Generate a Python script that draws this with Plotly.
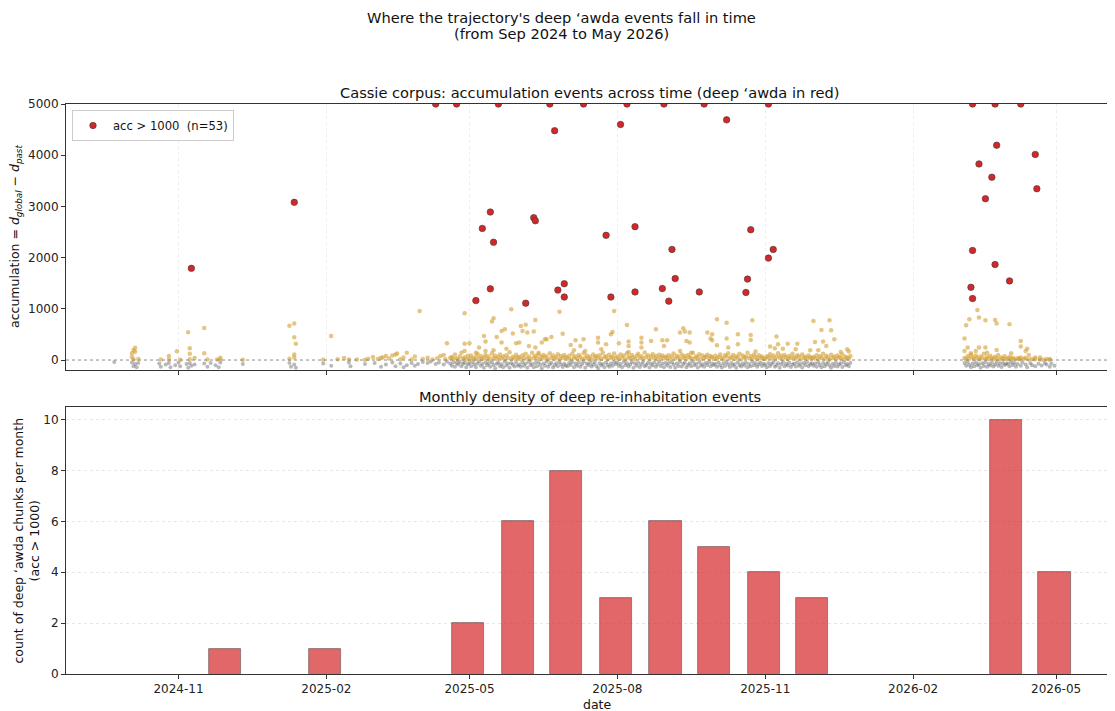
import plotly.graph_objects as go

# ---------------- data ----------------
# deep 'awda events (acc > 1000); values above 5000 are shown at the 5000 ceiling
deep_points = [
    ("2024-11-09", 1790), ("2025-01-12", 3080), ("2025-04-10", 5000), ("2025-04-23", 5000),
    ("2025-05-05", 1160), ("2025-05-09", 2570), ("2025-05-14", 2890), ("2025-05-14", 1390),
    ("2025-05-16", 2300), ("2025-05-19", 5000),
    ("2025-06-05", 1110), ("2025-06-10", 2780), ("2025-06-11", 2720), ("2025-06-20", 5000),
    ("2025-06-23", 4480), ("2025-06-25", 1365), ("2025-06-29", 1490), ("2025-06-29", 1230),
    ("2025-07-11", 5000), ("2025-07-25", 2435), ("2025-07-28", 1230),
    ("2025-08-03", 4600), ("2025-08-07", 5000), ("2025-08-12", 2605), ("2025-08-12", 1330),
    ("2025-08-29", 1395), ("2025-08-30", 5000),
    ("2025-09-02", 1150), ("2025-09-04", 2160), ("2025-09-06", 1590), ("2025-09-21", 1330),
    ("2025-09-24", 5000),
    ("2025-10-08", 4690), ("2025-10-20", 1320), ("2025-10-21", 1580), ("2025-10-23", 2545),
    ("2025-11-03", 1990), ("2025-11-03", 5000), ("2025-11-06", 2160),
    ("2026-03-09", 1420), ("2026-03-10", 5000), ("2026-03-10", 1200), ("2026-03-10", 2140),
    ("2026-03-14", 3830), ("2026-03-18", 3150), ("2026-03-22", 3570), ("2026-03-24", 1865),
    ("2026-03-24", 5000), ("2026-03-25", 4195),
    ("2026-04-02", 1545), ("2026-04-09", 5000), ("2026-04-18", 4015), ("2026-04-19", 3345),
]

# other accumulation events with 0 < acc <= 1000 (scattered ones)
gold_points_sparse = [
    ("2024-10-03", 130), ("2024-10-04", 195), ("2024-10-05", 240), ("2024-10-05", 160),
    ("2024-10-03", 60), ("2024-10-04", 15), ("2024-10-07", 20), ("2024-10-21", 10),
    ("2024-10-26", 80), ("2024-10-26", 5), ("2024-10-31", 170), ("2024-11-02", 5),
    ("2024-11-07", 540), ("2024-11-08", 230), ("2024-11-08", 120), ("2024-11-08", 15),
    ("2024-11-11", 40), ("2024-11-17", 625), ("2024-11-17", 130), ("2024-11-19", 10),
    ("2024-11-25", 10), ("2024-11-27", 45), ("2024-11-27", 5), ("2024-12-11", 5),
    ("2025-01-09", 670), ("2025-01-12", 715), ("2025-01-12", 445), ("2025-01-13", 320),
    ("2025-01-12", 110), ("2025-01-12", 50), ("2025-01-09", 25),
    ("2025-01-30", 5), ("2025-02-04", 470), ("2025-02-08", 15), ("2025-02-12", 40),
    ("2025-02-15", 10), ("2025-02-20", 10), ("2025-02-25", 5), ("2025-02-27", 25),
    ("2025-03-02", 60), ("2025-03-05", 20), ("2025-03-07", 45), ("2025-03-08", 47),
    ("2025-03-10", 80), ("2025-03-12", 30), ("2025-03-14", 90), ("2025-03-16", 110),
    ("2025-03-17", 125), ("2025-03-19", 15), ("2025-03-21", 50), ("2025-03-23", 144),
    ("2025-03-26", 10), ("2025-03-28", 70), ("2025-03-31", 957),
    ("2025-04-15", 98), ("2025-04-17", 326), ("2025-04-28", 912), ("2025-04-28", 320),
    ("2025-04-28", 176), ("2025-05-01", 326), ("2025-05-05", 144), ("2025-05-07", 242),
    ("2025-05-10", 470), ("2025-05-11", 360), ("2025-05-11", 176), ("2025-05-15", 750),
    ("2025-05-16", 815), ("2025-05-16", 190), ("2025-05-18", 450), ("2025-05-21", 566),
    ("2025-05-21", 340), ("2025-05-23", 600), ("2025-05-24", 222), ("2025-05-27", 990),
    ("2025-05-28", 520), ("2025-05-30", 326), ("2025-06-01", 340), ("2025-06-02", 664),
    ("2025-06-03", 566), ("2025-06-05", 690), ("2025-06-06", 535), ("2025-06-07", 273),
    ("2025-06-10", 555), ("2025-06-11", 780), ("2025-06-11", 242), ("2025-06-13", 144),
    ("2025-06-15", 340), ("2025-06-17", 404), ("2025-06-18", 404), ("2025-06-21", 450),
    ("2025-06-26", 945), ("2025-06-28", 515), ("2025-07-03", 293), ("2025-07-05", 190),
    ("2025-07-06", 385), ("2025-07-09", 273), ("2025-07-11", 404), ("2025-07-12", 176),
    ("2025-07-20", 437), ("2025-07-20", 340), ("2025-07-22", 209), ("2025-07-25", 307),
    ("2025-07-28", 502), ("2025-07-29", 547), ("2025-07-30", 957), ("2025-08-02", 326),
    ("2025-08-07", 684), ("2025-08-08", 360), ("2025-08-08", 273), ("2025-08-08", 157),
    ("2025-08-16", 437), ("2025-08-16", 340), ("2025-08-16", 242), ("2025-08-22", 371),
    ("2025-08-25", 600), ("2025-08-29", 385), ("2025-08-30", 273), ("2025-09-01", 385),
    ("2025-09-09", 535), ("2025-09-09", 176), ("2025-09-11", 620), ("2025-09-12", 555),
    ("2025-09-13", 371), ("2025-09-15", 535), ("2025-09-15", 340), ("2025-09-16", 144),
    ("2025-09-26", 535), ("2025-09-28", 418), ("2025-09-29", 502), ("2025-09-29", 385),
    ("2025-10-02", 795), ("2025-10-02", 287), ("2025-10-08", 730), ("2025-10-08", 418),
    ("2025-10-09", 242), ("2025-10-15", 502), ("2025-10-15", 307), ("2025-10-23", 488),
    ("2025-10-23", 390), ("2025-10-24", 775), ("2025-10-26", 164), ("2025-11-04", 262),
    ("2025-11-07", 228), ("2025-11-08", 457), ("2025-11-09", 307), ("2025-11-12", 222),
    ("2025-11-15", 320), ("2025-11-20", 209), ("2025-11-21", 320), ("2025-11-29", 190),
    ("2025-12-01", 762), ("2025-12-02", 352), ("2025-12-04", 190), ("2025-12-06", 586),
    ("2025-12-07", 360), ("2025-12-09", 273), ("2025-12-11", 775), ("2025-12-12", 580),
    ("2025-12-14", 404), ("2025-12-18", 157), ("2025-12-22", 209), ("2025-12-23", 164),
    ("2026-03-05", 418), ("2026-03-05", 176), ("2026-03-06", 678), ("2026-03-07", 242),
    ("2026-03-08", 795), ("2026-03-09", 131), ("2026-03-12", 176), ("2026-03-13", 977),
    ("2026-03-14", 828), ("2026-03-14", 242), ("2026-03-18", 775), ("2026-03-18", 242),
    ("2026-03-19", 144), ("2026-03-24", 781), ("2026-03-25", 711), ("2026-03-25", 195),
    ("2026-04-02", 697), ("2026-04-03", 131), ("2026-04-08", 27), ("2026-04-09", 371),
    ("2026-04-09", 262), ("2026-04-12", 176), ("2026-04-13", 222), ("2026-04-14", 98),
    ("2026-04-18", 47), ("2026-04-21", 47), ("2026-04-27", 14),
]

# dense near-zero band, one value per day of month (None = no event that day)
gold_2025_04 = [None, 20, None, None, 45, None, None, 10, None, None, 35, None, 80, None, None,
                15, None, None, 40, 60, 25, 110, 30, 5, 70, 140, 20, 55, 10, 85]
gold_2025_05 = [20, 90, 40, 10, 60, 120, 30, 80, 15, 50, 100, 25, 70, 5, 130, 45, 85, 20, 60, 110,
                35, 75, 10, 95, 40, 150, 20, 65, 30, 105, 50]
gold_2025_06 = [60, 15, 95, 40, 120, 25, 70, 10, 140, 50, 85, 30, 110, 20, 65, 100, 35, 75, 5, 130,
                45, 90, 25, 60, 115, 15, 80, 40, 100, 55]
gold_2025_07 = [30, 85, 10, 120, 45, 70, 20, 100, 60, 15, 135, 40, 90, 25, 65, 5, 110, 50, 80, 30,
                95, 20, 140, 55, 75, 10, 105, 45, 60, 125, 35]
gold_2025_08 = [70, 20, 110, 45, 90, 10, 130, 60, 30, 100, 50, 15, 85, 120, 40, 75, 25, 145, 55, 95,
                5, 65, 115, 35, 80, 20, 105, 50, 90, 30, 70]
gold_2025_09 = [40, 95, 15, 70, 125, 30, 85, 55, 10, 110, 45, 80, 20, 100, 60, 35, 140, 25, 75, 50,
                115, 15, 90, 40, 65, 105, 30, 80, 55, 20]
gold_2025_10 = [85, 25, 60, 110, 40, 15, 95, 70, 130, 30, 55, 100, 20, 75, 45, 120, 10, 90, 50, 65,
                140, 35, 80, 25, 105, 60, 15, 95, 40, 70, 30]
gold_2025_11 = [20, 75, 50, 115, 35, 90, 10, 65, 130, 45, 85, 25, 100, 60, 15, 80, 40, 120, 55, 30,
                95, 70, 10, 110, 45, 65, 25, 90, 50, 35]
gold_2025_12 = [60, 30, 95, 15, 75, 45, 120, 25, 85, 50, 10, 105, 40, 70, 20, 90, 55, 35, 110, 15,
                65, 45, 25, 80]
gold_2026_03 = [None, None, None, None, 40, 15, 80, 30, 110, 55, 20, 90, 45, 10, 70, 35, 120, 25,
                60, 15, 85, 40, 20, 65, 30, 100, 10, 50, 25, 75, 15]
gold_2026_04 = [30, 60, 10, 45, 20, None, 35, 15, 50, None, 25, 40, None, 10, None, 20, None, 15,
                None, None, 10, None, 5, None, 20, None, 10]

# events with acc <= 0 (grey)
gray_points_sparse = [
    ("2024-09-22", -40), ("2024-10-03", -50), ("2024-10-04", -120), ("2024-10-05", -80),
    ("2024-10-06", -140), ("2024-10-07", -60), ("2024-10-20", -70), ("2024-10-21", -130),
    ("2024-10-24", -90), ("2024-10-26", -60), ("2024-10-27", -140), ("2024-10-30", -100),
    ("2024-11-01", -50), ("2024-11-02", -120), ("2024-11-06", -80), ("2024-11-07", -150),
    ("2024-11-08", -60), ("2024-11-09", -110), ("2024-11-11", -90), ("2024-11-17", -70),
    ("2024-11-19", -130), ("2024-11-21", -60), ("2024-11-24", -100), ("2024-11-26", -140),
    ("2024-11-27", -50), ("2024-12-11", -80), ("2025-01-09", -60), ("2025-01-10", -130),
    ("2025-01-12", -90), ("2025-01-13", -150), ("2025-01-30", -70), ("2025-02-04", -110),
    ("2025-02-15", -50), ("2025-02-16", -120), ("2025-02-25", -80), ("2025-03-03", -60),
    ("2025-03-07", -130), ("2025-03-10", -90), ("2025-03-14", -50), ("2025-03-16", -120),
    ("2025-03-19", -70), ("2025-03-21", -140), ("2025-03-23", -100), ("2025-03-26", -60),
    ("2025-03-28", -110), ("2025-03-30", -80),
]
gray_2025_04 = [None, -40, None, None, -60, None, -30, None, None, -80, None, -50, None, None, -90,
                None, -35, None, -70, -110, -45, -130, -60, -90, -40, -120, -75, -55, -140, -85]
gray_2025_05 = [-60, -120, -40, -90, -140, -70, -30, -110, -80, -150, -50, -100, -65, -130, -45,
                -95, -160, -75, -55, -120, -85, -140, -35, -105, -70, -150, -60, -90, -125, -45, -110]
gray_2025_06 = [-90, -130, -50, -110, -70, -150, -40, -100, -80, -140, -60, -120, -45, -95, -160,
                -70, -110, -35, -130, -85, -55, -145, -100, -65, -120, -40, -90, -135, -75, -105]
gray_2025_07 = [-120, -60, -95, -40, -140, -75, -110, -50, -130, -85, -35, -150, -70, -100, -55,
                -125, -90, -45, -115, -160, -65, -105, -80, -140, -50, -95, -130, -70, -110, -40, -85]
gray_2025_08 = [-50, -115, -80, -140, -35, -100, -65, -125, -90, -45, -150, -70, -110, -55, -135,
                -85, -40, -120, -95, -60, -145, -75, -105, -50, -130, -90, -35, -115, -70, -140, -60]
gray_2025_09 = [-105, -60, -135, -45, -90, -150, -70, -115, -40, -125, -80, -55, -140, -95, -65,
                -120, -35, -100, -75, -145, -50, -110, -85, -130, -60, -95, -40, -120, -70, -100]
gray_2025_10 = [-75, -130, -50, -100, -145, -65, -115, -40, -90, -135, -60, -110, -85, -150, -45,
                -95, -125, -70, -105, -55, -140, -80, -120, -35, -100, -65, -130, -90, -50, -115, -75]
gray_2025_11 = [-95, -140, -60, -115, -80, -45, -130, -100, -65, -150, -85, -40, -120, -75, -105,
                -55, -135, -90, -70, -125, -50, -110, -80, -145, -60, -100, -40, -120, -85, -65]
gray_2025_12 = [-110, -70, -130, -50, -95, -140, -60, -120, -85, -45, -105, -150, -75, -115, -55,
                -125, -90, -65, -135, -40, -100, -80, -120, -60]
gray_2026_03 = [None, None, None, None, -60, -110, -40, -95, -140, -70, -120, -50, -100, -85, -150,
                -65, -115, -45, -130, -80, -105, -55, -125, -90, -40, -110, -70, -135, -60, -95, -80]
gray_2026_04 = [-70, -120, -45, -95, -60, -130, -80, None, -110, -50, None, -90, -140, None, -65,
                -100, None, -120, None, -75, None, -105, None, -60, -90, None, -130, -70, None, -110]

# monthly density of deep events (month-end bins)
bar_months = ["2024-11-30", "2025-01-31", "2025-04-30", "2025-05-31", "2025-06-30", "2025-07-31",
              "2025-08-31", "2025-09-30", "2025-10-31", "2025-11-30", "2026-03-31", "2026-04-30"]
bar_counts = [1, 1, 2, 6, 8, 3, 6, 5, 4, 3, 10, 4]

x_tick_dates = ["2024-11-01", "2025-02-01", "2025-05-01", "2025-08-01", "2025-11-01",
                "2026-02-01", "2026-05-01"]
x_tick_labels = ["2024-11", "2025-02", "2025-05", "2025-08", "2025-11", "2026-02", "2026-05"]
top_y_ticks = [0, 1000, 2000, 3000, 4000, 5000]
bottom_y_ticks = [0, 2, 4, 6, 8, 10]
x_range = ["2024-08-23", "2026-06-06"]


# ---------------- helpers ----------------
def unzip(points):
    return [p[0] for p in points], [p[1] for p in points]


def month_series(month, values):
    dates, vals = [], []
    for day, v in enumerate(values, start=1):
        if v is not None:
            dates.append(f"{month}-{day:02d}")
            vals.append(v)
    return dates, vals


def collect(sparse, monthly):
    d, v = unzip(sparse)
    for month, values in monthly:
        md, mv = month_series(month, values)
        d += md
        v += mv
    return d, v


gold_x, gold_y = collect(gold_points_sparse, [
    ("2025-04", gold_2025_04), ("2025-05", gold_2025_05), ("2025-06", gold_2025_06),
    ("2025-07", gold_2025_07), ("2025-08", gold_2025_08), ("2025-09", gold_2025_09),
    ("2025-10", gold_2025_10), ("2025-11", gold_2025_11), ("2025-12", gold_2025_12),
    ("2026-03", gold_2026_03), ("2026-04", gold_2026_04)])
gray_x, gray_y = collect(gray_points_sparse, [
    ("2025-04", gray_2025_04), ("2025-05", gray_2025_05), ("2025-06", gray_2025_06),
    ("2025-07", gray_2025_07), ("2025-08", gray_2025_08), ("2025-09", gray_2025_09),
    ("2025-10", gray_2025_10), ("2025-11", gray_2025_11), ("2025-12", gray_2025_12),
    ("2026-03", gray_2026_03), ("2026-04", gray_2026_04)])
deep_x, deep_y = unzip(deep_points)

FONT = "DejaVu Sans"
PAGE_OFF = 8                      # default body margin of the html page
W, H = 1115 - PAGE_OFF, 711 - PAGE_OFF
ML, MR, MT, MB = 66 - PAGE_OFF, 1, 104 - PAGE_OFF, 711 - 674
plot_h = H - MT - MB
plot_w = W - ML - MR


def yfrac(page_y):
    return (711 - MB - page_y) / plot_h


def xfrac(page_x):
    return (page_x - 66) / plot_w


top_dom = [yfrac(370), 1.0]
bot_dom = [0.0, yfrac(407)]

fig = go.Figure()

fig.add_trace(go.Scatter(
    x=gray_x, y=gray_y, mode="markers", xaxis="x", yaxis="y",
    marker=dict(size=4, color="rgba(100,100,100,0.45)", line=dict(width=0)),
    showlegend=False, hoverinfo="skip"))
fig.add_trace(go.Scatter(
    x=gold_x, y=gold_y, mode="markers", xaxis="x", yaxis="y",
    marker=dict(size=4.5, color="rgba(212,158,48,0.6)", line=dict(width=0)),
    showlegend=False, hoverinfo="skip"))
fig.add_trace(go.Scatter(
    x=deep_x, y=deep_y, mode="markers", xaxis="x", yaxis="y",
    marker=dict(size=6.5, color="#d62728", line=dict(width=0.6, color="#3a3a3a")),
    name="acc > 1000  (n=53)", showlegend=True, cliponaxis=True))

fig.add_trace(go.Bar(
    x=bar_months, y=bar_counts, xaxis="x2", yaxis="y2",
    width=20 * 86400000,
    marker=dict(color="rgba(214,39,40,0.7)", line=dict(color="rgba(60,60,60,0.6)", width=0.8)),
    showlegend=False, hoverinfo="skip"))

# zero reference line in top panel
fig.add_shape(type="line", xref="x domain", yref="y", x0=0, x1=1, y0=0, y1=0,
              line=dict(color="rgba(128,128,128,0.9)", width=1, dash="dot"))

axis_common = dict(
    showline=True, linecolor="#333", linewidth=1, mirror=True,
    ticks="outside", ticklen=4, tickcolor="#333", automargin=False,
    tickfont=dict(family=FONT, size=12, color="#222"),
)

TXT = dict(family=FONT, size=12.5, color="#111")
TTL = dict(family=FONT, size=14.6, color="#111")

fig.update_layout(
    width=W, height=H,
    margin=dict(l=ML, r=MR, t=MT, b=MB),
    paper_bgcolor="white", plot_bgcolor="white",
    font=dict(family=FONT, color="#111"),
    bargap=0,
    xaxis=dict(domain=[0, 1], anchor="y", type="date", range=x_range,
               tickvals=x_tick_dates, ticktext=x_tick_labels, showticklabels=False,
               showgrid=True, gridcolor="rgba(225,225,225,0.6)", griddash="dot", gridwidth=0.8,
               zeroline=False, **axis_common),
    yaxis=dict(domain=top_dom, anchor="x", range=[-195, 5000], tickvals=top_y_ticks,
               showgrid=False, zeroline=False, **axis_common),
    xaxis2=dict(domain=[0, 1], anchor="y2", type="date", range=x_range, matches="x",
                tickvals=x_tick_dates, ticktext=x_tick_labels, showgrid=False, zeroline=False,
                **axis_common),
    yaxis2=dict(domain=bot_dom, anchor="x2", range=[0, 10.5], tickvals=bottom_y_ticks,
                showgrid=True, gridcolor="rgba(215,215,215,0.6)", griddash="dot", gridwidth=0.8,
                zeroline=False, **axis_common),
    legend=dict(x=xfrac(72), y=yfrac(110), xanchor="left", yanchor="top",
                bgcolor="rgba(255,255,255,0.85)", bordercolor="#cccccc", borderwidth=1,
                font=dict(family=FONT, size=11.6, color="#111")),
    annotations=[
        # figure title
        dict(text="Where the trajectory's deep \u2018awda events fall in time",
             xref="paper", yref="paper", x=xfrac(561), y=1.0, yshift=104 - 17,
             xanchor="center", yanchor="middle", showarrow=False, font=TTL),
        dict(text="(from Sep 2024 to May 2026)",
             xref="paper", yref="paper", x=xfrac(561), y=1.0, yshift=104 - 33,
             xanchor="center", yanchor="middle", showarrow=False, font=TTL),
        # panel titles
        dict(text="Cassie corpus: accumulation events across time (deep \u2018awda in red)",
             xref="paper", yref="paper", x=0.5, y=1.0, yshift=12,
             xanchor="center", yanchor="middle", showarrow=False, font=TTL),
        dict(text="Monthly density of deep re-inhabitation events",
             xref="paper", yref="paper", x=0.5, y=bot_dom[1], yshift=11,
             xanchor="center", yanchor="middle", showarrow=False, font=TTL),
        # axis titles
        dict(text="accumulation = <i>d</i><sub><i>global</i></sub> \u2212 <i>d</i><sub><i>past</i></sub>",
             xref="paper", yref="paper", x=0, xshift=-(66 - 15), y=(top_dom[0] + top_dom[1]) / 2,
             xanchor="center", yanchor="middle", textangle=-90, showarrow=False, font=TXT),
        dict(text="count of deep \u2018awda chunks per month<br>(acc > 1000)",
             xref="paper", yref="paper", x=0, xshift=-(66 - 26), y=(bot_dom[0] + bot_dom[1]) / 2,
             xanchor="center", yanchor="middle", textangle=-90, showarrow=False, font=TXT),
        dict(text="date", xref="paper", yref="paper", x=xfrac(597), y=0, yshift=-(704 - 674),
             xanchor="center", yanchor="middle", showarrow=False, font=TXT),
    ],
)

fig.write_html("out.html")
